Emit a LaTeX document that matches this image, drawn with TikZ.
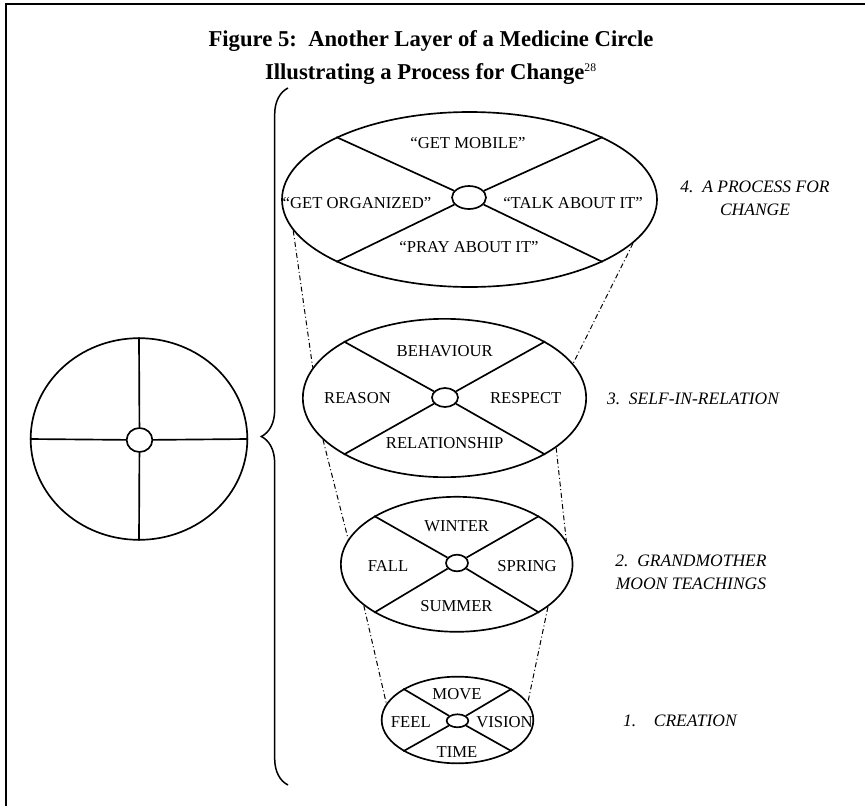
\documentclass[tikz,border=0pt]{standalone}
\usepackage{fontspec}
\setmainfont{Liberation Serif}
\usepackage{tikz}
\usetikzlibrary{shapes.geometric}
\usetikzlibrary{positioning}
\usetikzlibrary{decorations.pathreplacing}

\begin{document}
\begin{tikzpicture}[x=0.6pt,y=0.6pt,line width=1pt,
  ring/.style={ellipse,draw,inner sep=0pt},
  hub/.style={ellipse,draw,fill=white,inner sep=0pt},
  lbl/.style={font=\fontsize{10}{12}\selectfont,inner sep=1pt},
  stage/.style={font=\fontsize{10.5}{13.8}\selectfont\itshape,align=center},
  link/.style={line width=0.6pt,dash pattern=on 3pt off 1.6pt on 0.6pt off 1.6pt}]

  \useasboundingbox (0,0) rectangle (865,-806);
  \draw[line width=1.2pt] (6,-806) -- (6,-4) -- (865,-4);

  % title
  \node[font=\fontsize{13.6}{19.8}\selectfont\bfseries,align=center] (title) at (431,-58)
    {Figure 5:\ \ Another Layer of a Medicine Circle\\
     Illustrating a Process for Change\textsuperscript{\mdseries\scriptsize 28}};

  % whole circle on the left
  \node[ring,minimum width=130pt,minimum height=121pt] (c0) at (139,-439) {};
  \node[hub,minimum width=15.4pt,minimum height=14.4pt] (h0) at (139.5,-440) {};
  \draw (c0.north) -- (h0);
  \draw (c0.south) -- (h0);
  \draw (c0.west) -- (h0);
  \draw (c0.east) -- (h0);

  \draw[line width=0.9pt,decorate,decoration={brace,amplitude=16pt}] (288,-785) -- (288,-88);

  % layers
  \node[ring,minimum width=225pt,minimum height=105pt] (e4) at (469.5,-199.5) {};
  \node[ring,minimum width=170pt,minimum height=95pt] (e3) at (444.5,-398) {};
  \node[ring,minimum width=139pt,minimum height=81pt] (e2) at (456.7,-564.3) {};
  \node[ring,minimum width=91pt,minimum height=52pt] (e1) at (457.5,-720) {};

  \node[hub,minimum width=20.4pt,minimum height=13.8pt] (h4) at (469,-197.5) {};
  \node[hub,minimum width=15.6pt,minimum height=11.4pt] (h3) at (445,-397.5) {};
  \node[hub,minimum width=13.2pt,minimum height=10pt] (h2) at (457,-563) {};
  \node[hub,minimum width=13pt,minimum height=7.8pt] (h1) at (457.5,-720.8) {};

  \foreach \n in {1,2,3,4} {
    \draw (e\n.north west) -- (h\n);
    \draw (e\n.north east) -- (h\n);
    \draw (e\n.south west) -- (h\n);
    \draw (e\n.south east) -- (h\n);
  }

  % dash-dot links between layers
  \draw[link] (e4.190.7) -- (e3.167.4);
  \draw[link] (e3.199.9) -- (e2.167.5);
  \draw[link] (e2.204) -- (e1.167.3);
  \draw[link] (e4.345.8) -- (e3.15.3);
  \draw[link] (e3.336.3) -- (e2.12.6);
  \draw[link] (e2.335.6) -- (e1.14.8);

  \node[lbl] (mob) at (468,-143) {``GET MOBILE''};
  \node[lbl] (org) at (357,-203) {``GET ORGANIZED''};
  \node[lbl] (tlk) at (573,-203) {``TALK ABOUT IT''};
  \node[lbl] (pry) at (469,-247) {``PRAY ABOUT IT''};

  \node[lbl] (beh) at (444.7,-351) {BEHAVIOUR};
  \node[lbl] (rea) at (357.5,-398) {REASON};
  \node[lbl] (res) at (525.7,-398) {RESPECT};
  \node[lbl] (rel) at (444.7,-443) {RELATIONSHIP};

  \node[lbl] (win) at (456.7,-526) {WINTER};
  \node[lbl] (fal) at (388,-566) {FALL};
  \node[lbl] (spr) at (527,-566) {SPRING};
  \node[lbl] (sum) at (456.5,-606) {SUMMER};

  \node[lbl] (mov) at (457,-694) {MOVE};
  \node[lbl] (fee) at (410.8,-722) {FEEL};
  \node[lbl] (vis) at (504.5,-722) {VISION};
  \node[lbl] (tim) at (457,-752) {TIME};

  \node[stage] (s4) at (755,-198) {4.\ \ A PROCESS FOR\\CHANGE};
  \node[stage] (s3) at (693,-399) {3.\ \ SELF-IN-RELATION};
  \node[stage] (s2) at (691,-572) {2.\ \ GRANDMOTHER\\MOON TEACHINGS};
  \node[stage] (s1) at (680,-721) {1.\hspace{1em}CREATION};
\end{tikzpicture}
\end{document}
